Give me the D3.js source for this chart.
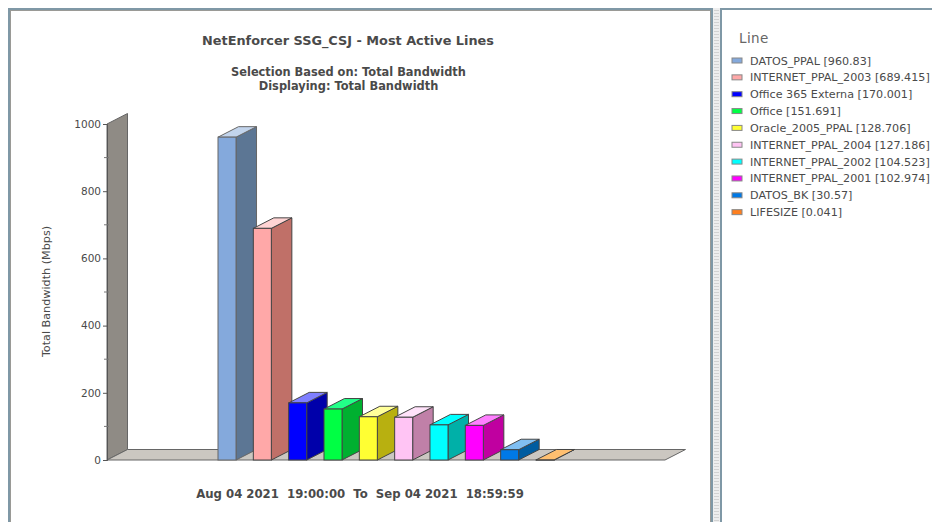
<!DOCTYPE html>
<html><head><meta charset="utf-8">
<script src="https://cdn.jsdelivr.net/npm/d3@7"></script>
<style>html,body{margin:0;padding:0;background:#fff;overflow:hidden}svg{display:block}text{font-family:"DejaVu Sans",sans-serif}</style>
</head><body><svg id="c" width="932" height="522"></svg>
<script>
const categories=["DATOS_PPAL","INTERNET_PPAL_2003","Office 365 Externa","Office","Oracle_2005_PPAL","INTERNET_PPAL_2004","INTERNET_PPAL_2002","INTERNET_PPAL_2001","DATOS_BK","LIFESIZE"];
const legendValues=["960.83","689.415","170.001","151.691","128.706","127.186","104.523","102.974","30.57","0.041"];
const values=legendValues.map(Number);
const frontColors=["#84a9dc","#ffa8a8","#0000ff","#00ff44","#ffff33","#ffc4f4","#00ffff","#ff00ff","#0079e6","#ff7f1e"];
const sideColors=["#5c7694","#c07068","#0000aa","#00b030","#b8b010","#c080a8","#00b0a8","#c000a0","#005ca0","#b85a10"];
const topColors=["#c2d4ec","#ffd4d4","#7f7fff","#22ff88","#ffff99","#ffe2fa","#00ffff","#ff7fff","#80bff2","#ffbf70"];
const yTicks=[0,200,400,600,800,1000];
const yMinorTicks=[100,300,500,700,900];
const title="NetEnforcer SSG_CSJ - Most Active Lines";
const subtitle=["Selection Based on: Total Bandwidth","Displaying: Total Bandwidth"];
const footer="Aug 04 2021  19:00:00  To  Sep 04 2021  18:59:59";
const yLabel="Total Bandwidth (Mbps)";
const legendTitle="Line";

const svg=d3.select("#c");
const txt="#4a4a4a";
// panels
svg.append("rect").attr("x",9).attr("y",9).attr("width",703).attr("height",530).attr("fill","#fff").attr("stroke","#7f98a6").attr("stroke-width",2);
svg.append("rect").attr("x",10.5).attr("y",10.5).attr("width",700).attr("height",530).attr("fill","#fff").attr("stroke","#9a9a96").attr("stroke-width",1);
svg.append("rect").attr("x",713).attr("y",8).attr("width",7).attr("height",514).attr("fill","#eeeeee");
svg.append("line").attr("x1",716.5).attr("x2",716.5).attr("y1",10).attr("y2",522).attr("stroke","#d2d2d2").attr("stroke-width",5).attr("stroke-dasharray","1 2");
svg.append("rect").attr("x",721).attr("y",9).attr("width",220).attr("height",530).attr("fill","#fff").attr("stroke","#7f98a6").attr("stroke-width",2);

const y=d3.scaleLinear().domain([0,1000]).range([460,124]);
const x=d3.scaleBand().domain(categories).range([218,554]).paddingInner(0.49).paddingOuter(0);
const dx=20.5,dy=-10.5,bw=x.bandwidth();
const poly=pts=>pts.map(p=>p.join(",")).join(" ");
const x0=107,x1=665;
// wall & floor
svg.append("polygon").attr("points",poly([[x0,y(0)],[x0+dx,y(0)+dy],[x0+dx,y(1000)+dy],[x0,y(1000)]])).attr("fill","#8f8b85").attr("stroke","#666").attr("stroke-width",1);
svg.append("polygon").attr("points",poly([[x0,y(0)],[x0+dx,y(0)+dy],[x1+dx,y(0)+dy],[x1,y(0)]])).attr("fill","#cbc7c1").attr("stroke","#666").attr("stroke-width",1);
// bars
const g=svg.append("g").selectAll("g").data(categories).join("g");
g.each(function(c,i){
  const s=d3.select(this),l=x(c),r=l+bw,t=y(values[i]),b=y(0);
  const st=i===0?"#666":"#444";
  s.append("polygon").attr("points",poly([[r,b],[r+dx,b+dy],[r+dx,t+dy],[r,t]])).attr("fill",sideColors[i]).attr("stroke",st);
  s.append("polygon").attr("points",poly([[l,t],[l+dx,t+dy],[r+dx,t+dy],[r,t]])).attr("fill",topColors[i]).attr("stroke",st);
  s.append("rect").attr("x",l).attr("y",t).attr("width",bw).attr("height",b-t).attr("fill",frontColors[i]).attr("stroke",st);
});
// axis
const axis=svg.append("g").attr("transform",`translate(${x0},0)`).call(d3.axisLeft(y).tickValues(yTicks).tickFormat(d3.format("d")).tickSize(4).tickPadding(2));
axis.selectAll("text").attr("font-size",10.5).attr("fill",txt).style("font-family",'"DejaVu Sans",sans-serif');
axis.selectAll("line").attr("stroke","#555");
axis.select(".domain").attr("stroke","#555");
svg.append("g").attr("transform",`translate(${x0},0)`).selectAll("line").data(yMinorTicks).join("line").attr("x1",-3).attr("x2",2).attr("y1",d=>y(d)).attr("y2",d=>y(d)).attr("stroke","#777");
// text
svg.append("text").attr("x",348).attr("y",45).attr("text-anchor","middle").attr("font-size",12.85).attr("font-weight","bold").attr("fill",txt).text(title);
subtitle.forEach((t,i)=>svg.append("text").attr("x",348.5).attr("y",76+i*14).attr("text-anchor","middle").attr("font-size",11.4).attr("font-weight","bold").attr("fill",txt).text(t));
svg.append("text").attr("x",360).attr("y",498).attr("text-anchor","middle").attr("font-size",11.7).attr("font-weight","bold").attr("fill",txt).style("white-space","pre").text(footer);
svg.append("text").attr("transform","translate(50,291.5) rotate(-90)").attr("text-anchor","middle").attr("font-size",11.2).attr("fill",txt).text(yLabel);
// legend
svg.append("text").attr("x",739).attr("y",42.5).attr("font-size",13.5).attr("fill","#666").attr("letter-spacing",0.4).text(legendTitle);
const lg=svg.append("g").selectAll("g").data(categories).join("g").attr("transform",(d,i)=>`translate(0,${60.5+i*16.85})`);
lg.append("rect").attr("x",732).attr("y",-2.5).attr("width",10).attr("height",5).attr("fill",(d,i)=>frontColors[i]).attr("stroke","#888");
lg.append("text").attr("x",750).attr("y",4).attr("font-size",11.15).attr("fill",txt).text((d,i)=>`${d} [${legendValues[i]}]`);
</script></body></html>
